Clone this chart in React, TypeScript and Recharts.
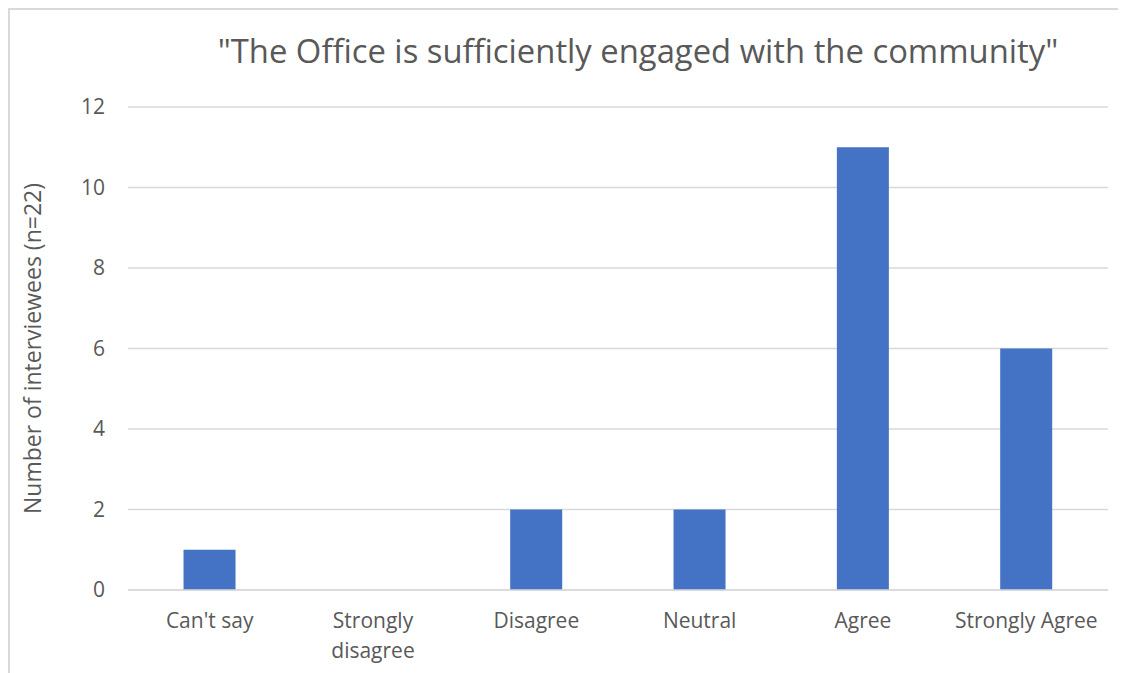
import { Bar, BarChart, CartesianGrid, XAxis, YAxis } from "recharts";

const categories = ["Can't say", "Strongly disagree", "Disagree", "Neutral", "Agree", "Strongly Agree"];
const counts = [1, 0, 2, 2, 11, 6];
const yTicks = [0, 2, 4, 6, 8, 10, 12];
// how each category label is broken into lines under the axis
const tickLines: Record<string, string[]> = {
  "Strongly disagree": ["Strongly", "disagree"],
};

const data = categories.map((name, i) => ({ name, value: counts[i] }));

const FONT = "'Open Sans', sans-serif";
const TEXT = "#595959";

function CategoryTick(props: any) {
  const { x, y, payload } = props;
  const lines = tickLines[payload.value] ?? [payload.value];
  return (
    <text x={x} y={y} textAnchor="middle" fill={TEXT} fontSize={21} fontFamily={FONT}>
      {lines.map((l, i) => (
        <tspan key={i} x={x} dy={i === 0 ? "0.71em" : 30}>
          {l}
        </tspan>
      ))}
    </text>
  );
}

export default function App() {
  return (
    <>
      <style>{"html, body { overflow: hidden; }"}</style>
      <div
        style={{
          position: "relative",
          width: 1118,
          height: 665,
          boxSizing: "border-box",
          borderLeft: "2px solid #d9d9d9",
          borderTop: "2px solid #d9d9d9",
          background: "#fff",
          overflow: "hidden",
        }}
      >
        <div
          style={{
            position: "absolute",
            top: 18,
            left: 0,
            width: 1256,
            textAlign: "center",
            fontFamily: FONT,
            fontSize: 32.8,
            color: TEXT,
            whiteSpace: "nowrap",
          }}
        >
          "The Office is sufficiently engaged with the community"
        </div>
        <BarChart
          width={1116}
          height={663}
          data={data}
          barCategoryGap="34%"
          margin={{ top: 97, right: 18, left: 0, bottom: 0 }}
        >
          <CartesianGrid stroke="#d9d9d9" strokeWidth={1.5} vertical={false} />
          <XAxis
            dataKey="name"
            height={83}
            interval={0}
            tickSize={0}
            tickMargin={23}
            axisLine={{ stroke: "#d9d9d9", strokeWidth: 1.5 }}
            tickLine={false}
            tick={<CategoryTick />}
          />
          <YAxis
            width={118}
            domain={[0, 12]}
            ticks={yTicks}
            tickSize={0}
            tickMargin={23}
            axisLine={false}
            tickLine={false}
            tick={{ fontSize: 21, fill: TEXT, fontFamily: FONT }}
            label={{
              content: ({ viewBox }: any) => (
                <text
                  x={0}
                  y={0}
                  transform={`translate(22, ${viewBox.y + viewBox.height / 2}) rotate(-90)`}
                  textAnchor="middle"
                  dominantBaseline="central"
                  fill={TEXT}
                  fontSize={23}
                  fontFamily={FONT}
                >
                  Number of interviewees (n=22)
                </text>
              ),
            }}
          />
          <Bar dataKey="value" fill="#4472c4" isAnimationActive={false} />
        </BarChart>
      </div>
    </>
  );
}
